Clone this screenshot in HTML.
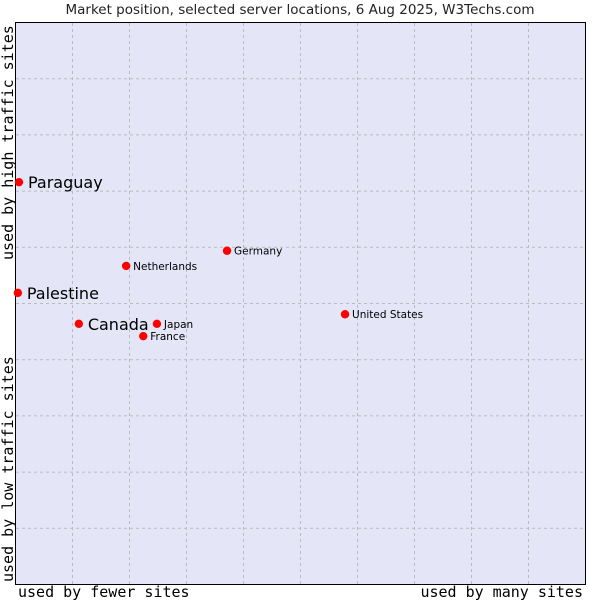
<!DOCTYPE html>
<html><head><meta charset="utf-8"><style>
body{margin:0;background:#fff;width:600px;height:600px;overflow:hidden}
</style></head><body>
<svg width="600" height="600" xmlns="http://www.w3.org/2000/svg">
<text x="300" y="14" text-anchor="middle" font-family="DejaVu Sans, sans-serif" font-size="13.5" fill="#222">Market position, selected server locations, 6 Aug 2025, W3Techs.com</text>
<rect x="15.5" y="22.5" width="570" height="562" fill="#e4e6f8" stroke="#000"/>
<g id="grid"></g>
<g id="marks"></g>
<text x="18" y="597" font-family="DejaVu Sans Mono, Liberation Mono, monospace" font-size="15" fill="#000">used by fewer sites</text>
<text x="583" y="597" text-anchor="end" font-family="DejaVu Sans Mono, Liberation Mono, monospace" font-size="15" fill="#000">used by many sites</text>
<text transform="translate(13,582) rotate(-90)" font-family="DejaVu Sans Mono, Liberation Mono, monospace" font-size="15" fill="#000">used by low traffic sites</text>
<text transform="translate(13,260) rotate(-90)" font-family="DejaVu Sans Mono, Liberation Mono, monospace" font-size="15" fill="#000">used by high traffic sites</text>
</svg>
<script>
const names=["Paraguay","Palestine","Canada","Japan","France","Netherlands","Germany","United States"];
const xVals=[0.7,0.5,11.2,24.9,22.5,19.5,37.2,57.9];
const yVals=[71.5,51.8,46.3,46.3,44.1,56.6,59.3,48.0];
const highlighted=[true,true,true,false,false,false,false,false];
const ticks=[10,20,30,40,50,60,70,80,90];
const X=v=>15+5.7*v, Y=v=>584-5.62*v;
const NS="http://www.w3.org/2000/svg";
const g=document.getElementById('grid'), m=document.getElementById('marks');
ticks.forEach(t=>{
  let l=document.createElementNS(NS,'line');
  l.setAttribute('x1',X(t)+.5);l.setAttribute('x2',X(t)+.5);l.setAttribute('y1',23);l.setAttribute('y2',584);
  l.setAttribute('stroke','#bbb');l.setAttribute('stroke-dasharray','3,3');
  
  
  g.appendChild(l);
  let h=document.createElementNS(NS,'line');
  h.setAttribute('y1',Y(t)+.5);h.setAttribute('y2',Y(t)+.5);h.setAttribute('x1',16);h.setAttribute('x2',585);
  h.setAttribute('stroke','#bbb');h.setAttribute('stroke-dasharray','3,3');
  
  
  g.appendChild(h);
});
names.forEach((n,i)=>{
  const cx=X(xVals[i]), cy=Y(yVals[i]);
  let p=document.createElementNS(NS,'circle');
  p.setAttribute('cx',cx);p.setAttribute('cy',cy);p.setAttribute('r',4.2);
  p.setAttribute('fill','#f00');
  
  
  m.appendChild(p);
  let t=document.createElementNS(NS,'text');
  const big=highlighted[i];
  t.setAttribute('x',cx+(big?9:7));t.setAttribute('y',cy+(big?6:4));
  t.setAttribute('font-family','DejaVu Sans, sans-serif');
  t.setAttribute('font-size',big?16:10.5);
  t.setAttribute('fill','#000');
  t.textContent=n;
  
  
  m.appendChild(t);
});
</script>
</body></html>
